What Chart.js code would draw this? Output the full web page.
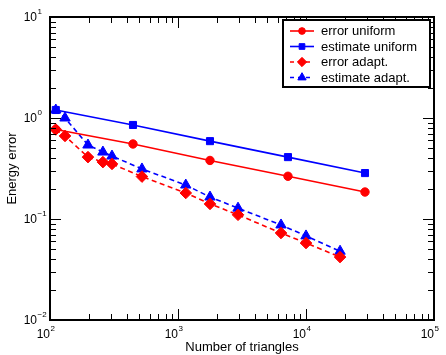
<!DOCTYPE html>
<html>
<head>
<meta charset="utf-8">
<script src="https://cdn.jsdelivr.net/npm/chart.js@4/dist/chart.umd.min.js"></script>
<style>
  html, body { margin: 0; padding: 0; background: #fff; }
  canvas { display: block; }
</style>
</head>
<body>
<canvas id="c" width="446" height="355"></canvas>
<script>
// data
const nUniform   = [111, 445, 1778, 7230, 28900];
const errUniform = [0.77, 0.553, 0.38, 0.265, 0.185];
const estUniform = [1.2, 0.853, 0.59, 0.41, 0.285];

const nAdapt   = [111, 131, 198, 259, 305, 523, 1150, 1778, 2944, 6380, 10000, 18450];
const errAdapt = [0.77, 0.664, 0.41, 0.366, 0.351, 0.263, 0.181, 0.141, 0.110, 0.0727, 0.0578, 0.042];
const estAdapt = [1.2, 1.0, 0.54, 0.46, 0.42, 0.313, 0.217, 0.165, 0.128, 0.0873, 0.068, 0.048];

const xExp = [2, 3, 4, 5];
const yExp = [-2, -1, 0, 1];

const seriesNames = ['error uniform', 'estimate uniform', 'error adapt.', 'estimate adapt.'];

const RED = '#ff0000', BLUE = '#0000ff';
const FONT = '"Liberation Sans", Arial, Helvetica, sans-serif';

const pts = (xs, ys) => xs.map((v, i) => ({ x: v, y: ys[i] }));

function ds(label, data, color, style, r, dashed) {
  return {
    label, data,
    showLine: true,
    borderColor: color, backgroundColor: color,
    borderWidth: 1.6,
    borderDash: dashed ? [5, 3.5] : [],
    pointStyle: style, pointRadius: r, pointBorderWidth: 1,
    pointBackgroundColor: color, pointBorderColor: color,
    clip: false
  };
}

const datasets = [
  ds(seriesNames[0], pts(nUniform, errUniform), RED, 'circle', 4.2, false),
  ds(seriesNames[1], pts(nUniform, estUniform), BLUE, 'rect', 5, false),
  ds(seriesNames[2], pts(nAdapt, errAdapt), RED, 'rectRot', 5.8, true),
  ds(seriesNames[3], pts(nAdapt, estAdapt), BLUE, 'triangle', 6, true)
];

// "10" ends at x, small exponent follows
function drawPow(ctx, x, y, exp) {
  const e = String(exp).replace('-', '\u2212');
  ctx.textBaseline = 'middle';
  ctx.textAlign = 'right';
  ctx.font = '12px ' + FONT;
  ctx.fillText('10', x, y);
  ctx.textAlign = 'left';
  ctx.font = '8px ' + FONT;
  ctx.fillText(e, x + 0.5, y - 6);
}

const framePlugin = {
  id: 'frame',
  afterDatasetsDraw(chart) {
    const { ctx, chartArea: a, scales: { x, y } } = chart;
    ctx.save();
    ctx.strokeStyle = '#000';
    ctx.fillStyle = '#000';
    ctx.lineWidth = 1;
    ctx.beginPath();
    // x ticks, inward, bottom and top
    for (let k = xExp[0]; k <= xExp[xExp.length - 1]; k++) {
      for (let m = 1; m <= 9; m++) {
        if (k === xExp[xExp.length - 1] && m > 1) break;
        const px = Math.round(x.getPixelForValue(m * Math.pow(10, k))) + 0.5;
        const len = m === 1 ? 11 : 6;
        ctx.moveTo(px, a.bottom); ctx.lineTo(px, a.bottom - len);
        ctx.moveTo(px, a.top); ctx.lineTo(px, a.top + len);
      }
    }
    // y ticks, inward, left and right
    for (let k = yExp[0]; k <= yExp[yExp.length - 1]; k++) {
      for (let m = 1; m <= 9; m++) {
        if (k === yExp[yExp.length - 1] && m > 1) break;
        const py = Math.round(y.getPixelForValue(m * Math.pow(10, k))) + 0.5;
        const len = m === 1 ? 11 : 6;
        ctx.moveTo(a.left, py); ctx.lineTo(a.left + len, py);
        ctx.moveTo(a.right, py); ctx.lineTo(a.right - len, py);
      }
    }
    ctx.stroke();
    ctx.lineWidth = 2;
    ctx.strokeRect(a.left, a.top, a.right - a.left, a.bottom - a.top);

    // tick labels
    xExp.forEach(k => drawPow(ctx, x.getPixelForValue(Math.pow(10, k)), a.bottom + 15, k));
    yExp.forEach(k => drawPow(ctx, 37, y.getPixelForValue(Math.pow(10, k)) + 1, k));

    // axis titles
    ctx.font = '13px ' + FONT;
    ctx.textAlign = 'center';
    ctx.textBaseline = 'middle';
    ctx.fillText('Number of triangles', (a.left + a.right) / 2, 347);
    ctx.save();
    ctx.translate(12, (a.top + a.bottom) / 2);
    ctx.rotate(-Math.PI / 2);
    ctx.fillText('Energy error', 0, 0);
    ctx.restore();

    // legend
    const lx = 283, ly = 20, lw = 147, lh = 67;
    ctx.fillStyle = '#fff';
    ctx.fillRect(lx, ly, lw, lh);
    ctx.strokeStyle = '#000';
    ctx.lineWidth = 2;
    ctx.strokeRect(lx, ly, lw, lh);
    const rows = [31, 46.5, 62, 77.5];
    chart.data.datasets.forEach((d, i) => {
      const ry = rows[i];
      ctx.strokeStyle = d.borderColor;
      ctx.fillStyle = d.backgroundColor;
      ctx.lineWidth = d.borderWidth;
      ctx.setLineDash(d.borderDash.length ? [4, 4] : []);
      ctx.beginPath();
      ctx.moveTo(290, ry); ctx.lineTo(314, ry);
      ctx.stroke();
      ctx.setLineDash([]);
      ctx.lineWidth = 1;
      Chart.helpers.drawPoint(ctx, { pointStyle: d.pointStyle, radius: d.pointRadius * 0.8, rotation: 0, borderWidth: 1 }, 302, ry);
      ctx.fillStyle = '#000';
      ctx.font = '13px ' + FONT;
      ctx.textAlign = 'left';
      ctx.textBaseline = 'middle';
      ctx.fillText(d.label, 321, ry + 0.5);
    });
    ctx.restore();
  }
};

new Chart(document.getElementById('c'), {
  type: 'scatter',
  data: { datasets },
  options: {
    responsive: false,
    animation: false,
    layout: { padding: { left: 50, top: 17, right: 12, bottom: 35 } },
    plugins: { legend: { display: false }, tooltip: { enabled: false } },
    scales: {
      x: { type: 'logarithmic', min: 100, max: 100000, display: false },
      y: { type: 'logarithmic', min: 0.01, max: 10, display: false }
    }
  },
  plugins: [framePlugin]
});
</script>
</body>
</html>
